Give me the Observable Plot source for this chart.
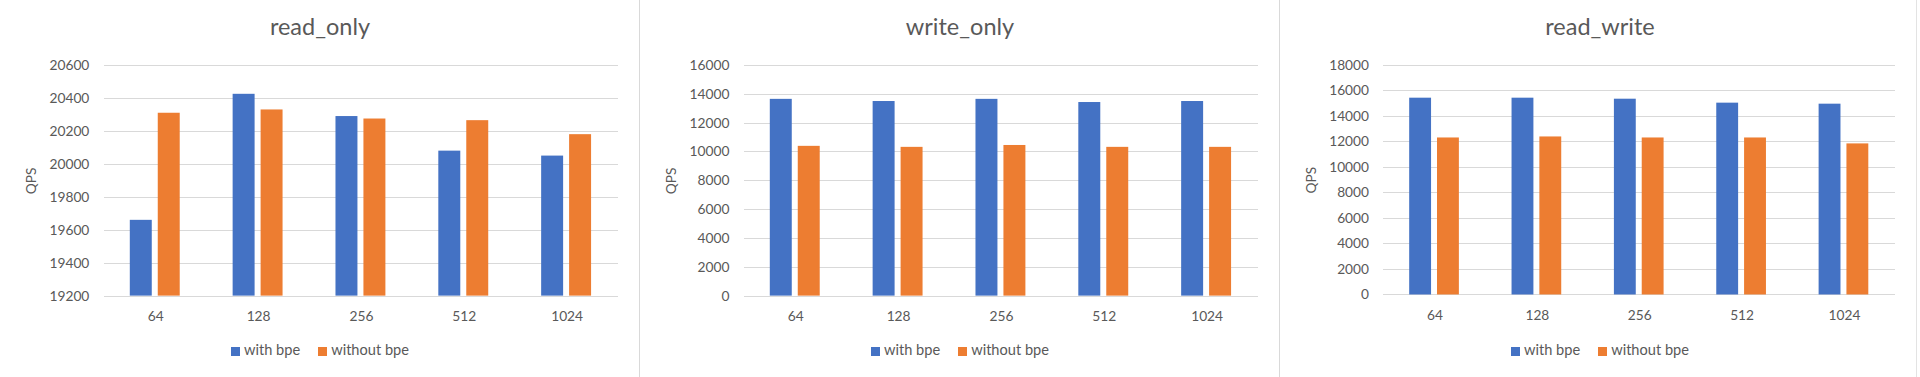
<!DOCTYPE html>
<html>
<head>
<meta charset="utf-8">
<script src="https://cdn.jsdelivr.net/npm/d3@7"></script>
<script src="https://cdn.jsdelivr.net/npm/@observablehq/plot@0.6"></script>
<style>
  html, body { margin: 0; padding: 0; background: #ffffff; overflow: hidden; }
  body { font-family: Lato, "Open Sans", sans-serif; }
  #row { display: flex; width: 1920px; height: 377px; }
  .panel { position: relative; width: 640px; height: 377px; box-sizing: border-box; flex: none; }
  .panel.sep { border-right: 1px solid #d9d9d9; }
  .panel.last { width: 637px; border-right: 1px solid #e3e3e3; }
  .title { position: absolute; left: 0; width: 640px; text-align: center; color: #595959; }
  .plot { position: absolute; top: 50px; left: 0; }
  .legend { position: absolute; left: 0; width: 640px; display: flex;
            justify-content: center; gap: 18px; color: #595959; }
  .item { display: inline-flex; align-items: center; gap: 4px; }
  .sw { width: 9px; height: 9px; display: inline-block; position: relative; top: 1px; }
</style>
</head>
<body>
<div id="row"></div>
<script>
// ---- data ----
const categories = ["64", "128", "256", "512", "1024"];
const seriesNames = ["with bpe", "without bpe"];
const seriesColors = ["#4472C4", "#ED7D31"];
const panelTitles = ["read_only", "write_only", "read_write"];
const yLabel = "QPS";

const readOnlyWith    = [19660, 20425, 20290, 20080, 20050];
const readOnlyWithout = [20310, 20330, 20275, 20265, 20180];
const readOnlyTicks   = [19200, 19400, 19600, 19800, 20000, 20200, 20400, 20600];

const writeOnlyWith    = [13650, 13500, 13650, 13430, 13500];
const writeOnlyWithout = [10390, 10320, 10450, 10320, 10320];
const writeOnlyTicks   = [0, 2000, 4000, 6000, 8000, 10000, 12000, 14000, 16000];

const readWriteWith    = [15430, 15430, 15350, 15040, 14960];
const readWriteWithout = [12310, 12390, 12310, 12310, 11845];
const readWriteTicks   = [0, 2000, 4000, 6000, 8000, 10000, 12000, 14000, 16000, 18000];

const panels = [
  {title: panelTitles[0], w: readOnlyWith,  wo: readOnlyWithout,  ticks: readOnlyTicks},
  {title: panelTitles[1], w: writeOnlyWith, wo: writeOnlyWithout, ticks: writeOnlyTicks},
  {title: panelTitles[2], w: readWriteWith, wo: readWriteWithout, ticks: readWriteTicks}
];

// font sizing so text widths match the reference (Calibri-like text)
const FAMILY = "Lato, 'Open Sans', sans-serif";
const ctx = document.createElement("canvas").getContext("2d");
function fit(text, target) {
  ctx.font = "100px " + FAMILY;
  const w = ctx.measureText(text).width;
  return Math.round(100 * target / w * 10) / 10;
}
const titleSize  = fit("read_only", 100);
const tickSize   = fit("20600", 40);
const legendSize = fit("with bpe", 56);

function makeChart(p) {
  const rows = [];
  categories.forEach((c, i) => {
    rows.push({cat: c, series: seriesNames[0], value: p.w[i]});
    rows.push({cat: c, series: seriesNames[1], value: p.wo[i]});
  });
  const y0 = p.ticks[0], y1 = p.ticks[p.ticks.length - 1];
  return Plot.plot({
    width: 640,
    height: 290,
    marginTop: 15,
    marginBottom: 44,
    marginLeft: 104,
    marginRight: 21,
    style: {fontFamily: FAMILY, fontSize: tickSize + "px", color: "#595959", background: "transparent", overflow: "visible"},
    fx: {domain: categories, padding: 0, label: null, tickSize: 0, tickPadding: 15, axis: "bottom"},
    x: {domain: seriesNames, paddingInner: 0.207, paddingOuter: 0.88, axis: null},
    y: {domain: [y0, y1], ticks: p.ticks, tickSize: 0, tickPadding: 15, tickFormat: d => String(d),
        label: yLabel, labelAnchor: "center", labelOffset: 78, labelArrow: "none"},
    color: {domain: seriesNames, range: seriesColors},
    marks: [
      Plot.ruleY(p.ticks, {stroke: "#d9d9d9", strokeWidth: 1, shapeRendering: "crispEdges"}),
      Plot.barY(rows, {fx: "cat", x: "series", y1: y0, y2: "value", fill: "series"})
    ]
  });
}

const row = document.getElementById("row");
panels.forEach((p, idx) => {
  const div = document.createElement("div");
  div.className = "panel" + (idx < 2 ? " sep" : " last");
  const t = document.createElement("div");
  t.className = "title";
  t.style.fontSize = titleSize + "px";
  t.style.lineHeight = titleSize + "px";
  // baseline at ~36px
  t.style.top = (36 - 0.885 * titleSize) + "px";
  t.textContent = p.title;
  div.appendChild(t);
  const holder = document.createElement("div");
  holder.className = "plot";
  holder.appendChild(makeChart(p));
  div.appendChild(holder);
  const lg = document.createElement("div");
  lg.className = "legend";
  lg.style.fontSize = legendSize + "px";
  lg.style.lineHeight = legendSize + "px";
  // text baseline at ~356px
  lg.style.top = (356 - 0.885 * legendSize) + "px";
  seriesNames.forEach((s, i) => {
    const it = document.createElement("span");
    it.className = "item";
    const sw = document.createElement("span");
    sw.className = "sw";
    sw.style.background = seriesColors[i];
    const tx = document.createElement("span");
    tx.textContent = s;
    it.appendChild(sw);
    it.appendChild(tx);
    lg.appendChild(it);
  });
  div.appendChild(lg);
  row.appendChild(div);
});
</script>
</body>
</html>
